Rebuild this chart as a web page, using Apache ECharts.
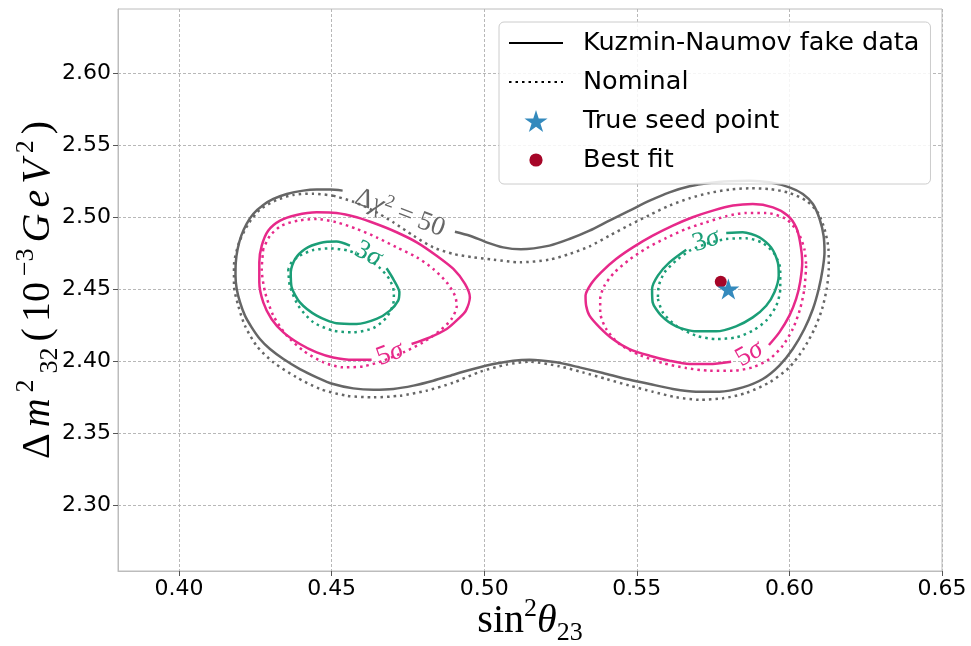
<!DOCTYPE html>
<html><head><meta charset="utf-8">
<script src="https://cdn.jsdelivr.net/npm/echarts@6/dist/echarts.min.js"></script>
<style>html,body{margin:0;padding:0;background:#fff}#c{width:971px;height:646px}</style>
</head><body><div id="c"></div><script>
// ---- axis ticks ----
const xTicks = [0.40, 0.45, 0.50, 0.55, 0.60, 0.65];
const yTicks = [2.30, 2.35, 2.40, 2.45, 2.50, 2.55, 2.60];
const xRange = [0.38, 0.65];
const yRange = [2.2542, 2.6444];

// ---- Δχ² = 50 contour, Kuzmin-Naumov fake data (open at the label) ----
const chi50Fake = [
 [0.4904,2.4898],[0.4953,2.4870],[0.5008,2.4824],[0.5062,2.4789],[0.5120,2.4776],
 [0.5214,2.4801],[0.5279,2.4847],[0.5345,2.4905],[0.5410,2.4975],[0.5476,2.5044],
 [0.5542,2.5113],[0.5607,2.5171],[0.5673,2.5213],[0.5738,2.5236],[0.5804,2.5248],
 [0.5869,2.5252],[0.5935,2.5241],[0.6000,2.5206],[0.6044,2.5160],[0.6077,2.5090],
 [0.6099,2.4986],[0.6112,2.4870],[0.6115,2.4755],[0.6109,2.4639],[0.6096,2.4500],
 [0.6077,2.4361],[0.6049,2.4222],[0.6011,2.4083],[0.5967,2.3968],[0.5913,2.3875],
 [0.5847,2.3817],[0.5771,2.3787],[0.5694,2.3787],[0.5618,2.3806],[0.5542,2.3840],
 [0.5465,2.3875],[0.5389,2.3917],[0.5312,2.3956],[0.5236,2.3991],[0.5148,2.4009],
 [0.5095,2.4002],[0.5030,2.3979],[0.4964,2.3944],[0.4899,2.3905],[0.4833,2.3863],
 [0.4768,2.3829],[0.4702,2.3806],[0.4637,2.3801],[0.4571,2.3810],[0.4505,2.3840],
 [0.4451,2.3887],[0.4396,2.3944],[0.4342,2.4014],[0.4298,2.4083],[0.4265,2.4153],
 [0.4238,2.4234],[0.4216,2.4315],[0.4200,2.4407],[0.4189,2.4500],[0.4185,2.4593],
 [0.4186,2.4685],[0.4192,2.4778],[0.4204,2.4870],[0.4221,2.4951],[0.4243,2.5021],
 [0.4276,2.5083],[0.4309,2.5125],[0.4353,2.5160],[0.4407,2.5183],[0.4451,2.5190],
 [0.4495,2.5190],[0.4536,2.5183]
];
// ---- Δχ² = 50 contour, nominal ----
const chi50Nom = [
 [0.4505,2.5148],[0.4571,2.5106],[0.4637,2.5044],[0.4702,2.4963],[0.4768,2.4870],
 [0.4833,2.4789],[0.4899,2.4743],[0.4964,2.4720],[0.5030,2.4704],[0.5117,2.4685],
 [0.5214,2.4704],[0.5279,2.4743],[0.5345,2.4796],[0.5410,2.4870],[0.5476,2.4944],
 [0.5542,2.5014],[0.5607,2.5079],[0.5673,2.5130],[0.5738,2.5167],[0.5804,2.5190],
 [0.5869,2.5199],[0.5935,2.5194],[0.6000,2.5167],[0.6055,2.5113],[0.6093,2.5032],
 [0.6115,2.4917],[0.6128,2.4778],[0.6129,2.4639],[0.6122,2.4500],[0.6107,2.4361],
 [0.6082,2.4222],[0.6046,2.4083],[0.6000,2.3956],[0.5935,2.3852],[0.5858,2.3778],
 [0.5782,2.3741],[0.5705,2.3731],[0.5629,2.3748],[0.5552,2.3787],[0.5476,2.3829],
 [0.5400,2.3875],[0.5323,2.3921],[0.5247,2.3963],[0.5148,2.3995],[0.5073,2.3975],
 [0.4986,2.3925],[0.4899,2.3850],[0.4811,2.3794],[0.4724,2.3759],[0.4637,2.3748],
 [0.4549,2.3759],[0.4462,2.3806],[0.4385,2.3887],[0.4309,2.3991],[0.4254,2.4106],
 [0.4216,2.4245],[0.4194,2.4384],[0.4180,2.4523],[0.4180,2.4662],[0.4197,2.4824],
 [0.4227,2.4951],[0.4265,2.5051],[0.4320,2.5118],[0.4374,2.5153],[0.4440,2.5162],
 [0.4505,2.5148]
];
// ---- 5σ contours ----
const sig5FakeLeft = [
 [0.4762,2.4118],[0.4822,2.4164],[0.4877,2.4222],[0.4915,2.4292],[0.4940,2.4350],
 [0.4953,2.4442],[0.4937,2.4535],[0.4899,2.4639],[0.4844,2.4731],[0.4779,2.4824],
 [0.4713,2.4894],[0.4647,2.4951],[0.4582,2.4998],[0.4516,2.5028],[0.4451,2.5032],
 [0.4385,2.5014],[0.4331,2.4975],[0.4292,2.4905],[0.4271,2.4801],[0.4263,2.4685],
 [0.4263,2.4546],[0.4276,2.4407],[0.4303,2.4292],[0.4342,2.4199],[0.4396,2.4118],
 [0.4451,2.4060],[0.4505,2.4025],[0.4571,2.4009],[0.4631,2.4009]
];
const sig5FakeRight = [
 [0.5933,2.4111],[0.5967,2.4199],[0.6000,2.4315],[0.6022,2.4431],[0.6035,2.4546],
 [0.6042,2.4685],[0.6035,2.4824],[0.6022,2.4928],[0.5995,2.5009],[0.5946,2.5067],
 [0.5880,2.5090],[0.5815,2.5079],[0.5749,2.5044],[0.5683,2.4998],[0.5618,2.4940],
 [0.5552,2.4870],[0.5487,2.4789],[0.5432,2.4708],[0.5383,2.4616],[0.5350,2.4535],
 [0.5332,2.4454],[0.5334,2.4384],[0.5345,2.4315],[0.5378,2.4234],[0.5421,2.4153],
 [0.5476,2.4083],[0.5542,2.4037],[0.5607,2.4002],[0.5673,2.3979],[0.5738,2.3979],
 [0.5809,2.3995]
];
const sig5NomLeft = [
 [0.4276,2.4778],[0.4271,2.4639],[0.4282,2.4477],[0.4309,2.4315],[0.4353,2.4176],
 [0.4407,2.4072],[0.4473,2.3991],[0.4538,2.3956],[0.4604,2.3963],[0.4669,2.4002],
 [0.4735,2.4060],[0.4800,2.4130],[0.4855,2.4211],[0.4893,2.4292],[0.4910,2.4384],
 [0.4904,2.4454],[0.4877,2.4546],[0.4833,2.4639],[0.4779,2.4720],[0.4713,2.4789],
 [0.4647,2.4859],[0.4582,2.4917],[0.4516,2.4963],[0.4451,2.4986],[0.4391,2.4975],
 [0.4336,2.4940],[0.4298,2.4870],[0.4276,2.4778]
];
const sig5NomRight = [
 [0.6055,2.4662],[0.6049,2.4500],[0.6035,2.4361],[0.6011,2.4222],[0.5978,2.4106],
 [0.5935,2.4014],[0.5880,2.3956],[0.5815,2.3933],[0.5738,2.3933],[0.5662,2.3951],
 [0.5585,2.3986],[0.5509,2.4042],[0.5443,2.4118],[0.5400,2.4222],[0.5380,2.4338],
 [0.5380,2.4431],[0.5394,2.4523],[0.5427,2.4616],[0.5476,2.4704],[0.5531,2.4782],
 [0.5596,2.4854],[0.5662,2.4917],[0.5727,2.4963],[0.5793,2.5005],[0.5858,2.5028],
 [0.5924,2.5028],[0.5989,2.4986],[0.6028,2.4894],[0.6049,2.4778],[0.6055,2.4662]
];
// ---- 3σ contours ----
const sig3FakeLeft = [
 [0.4680,2.4644],[0.4702,2.4569],[0.4722,2.4477],[0.4718,2.4419],[0.4691,2.4350],
 [0.4647,2.4292],[0.4582,2.4257],[0.4516,2.4262],[0.4451,2.4315],[0.4396,2.4407],
 [0.4369,2.4512],[0.4366,2.4616],[0.4380,2.4708],[0.4413,2.4778],[0.4462,2.4819],
 [0.4516,2.4829],[0.4560,2.4801]
];
const sig3FakeRight = [
 [0.5793,2.4889],[0.5847,2.4894],[0.5902,2.4859],[0.5940,2.4789],[0.5962,2.4685],
 [0.5965,2.4593],[0.5951,2.4477],[0.5924,2.4384],[0.5880,2.4303],[0.5825,2.4241],
 [0.5760,2.4206],[0.5694,2.4206],[0.5629,2.4241],[0.5580,2.4315],[0.5552,2.4407],
 [0.5550,2.4500],[0.5569,2.4593],[0.5607,2.4685],[0.5662,2.4773]
];
const sig3NomLeft = [
 [0.4358,2.4639],[0.4363,2.4523],[0.4391,2.4384],[0.4440,2.4269],[0.4505,2.4211],
 [0.4571,2.4199],[0.4637,2.4229],[0.4680,2.4303],[0.4702,2.4396],[0.4704,2.4477],
 [0.4689,2.4569],[0.4656,2.4650],[0.4609,2.4720],[0.4555,2.4766],[0.4495,2.4782],
 [0.4440,2.4771],[0.4396,2.4731],[0.4369,2.4685],[0.4358,2.4639]
];
const sig3NomRight = [
 [0.5569,2.4431],[0.5585,2.4338],[0.5629,2.4245],[0.5694,2.4176],[0.5760,2.4153],
 [0.5825,2.4164],[0.5880,2.4211],[0.5924,2.4280],[0.5957,2.4384],[0.5970,2.4500],
 [0.5970,2.4639],[0.5951,2.4743],[0.5913,2.4819],[0.5858,2.4852],[0.5793,2.4847],
 [0.5727,2.4813],[0.5673,2.4766],[0.5629,2.4697],[0.5591,2.4616],[0.5572,2.4523],
 [0.5569,2.4431]
];
// ---- points ----
const trueSeed = [[0.580, 2.450]];
const bestFit = [[0.5775, 2.455]];
// ---- contour label anchors ----
const labelNames = ['chi50', 'sig3', 'sig5', 'sig3', 'sig5'];
const labelAnchors = [[0.4724,2.5028],[0.4620,2.4743],[0.4691,2.4049],[0.5727,2.4836],[0.5869,2.4049]];

const GRAY = '#666666', PINK = '#e7298a', GREEN = '#1b9e77';
const SERIF = 'Liberation Serif';
const STAR = 'path://M100,0 L122.45,69.1 L195.11,69.1 L136.33,111.8 L158.78,180.9 L100,138.2 L41.22,180.9 L63.67,111.8 L4.89,69.1 L77.55,69.1 Z';
const DOT = 'path://M0,0 M100,100 M50,20 A30,30 0 1 1 50,80 A30,30 0 1 1 50,20 Z';

function contour(data, color, dotted) {
  return {
    type: 'line', data: data, symbol: 'none', showSymbol: false, smooth: 0.25,
    silent: true, animation: false, z: 3,
    lineStyle: { color: color, width: 2.5, type: dotted ? [2.5, 4] : 'solid', cap: 'butt' },
    emphasis: { disabled: true }
  };
}

const labelStyle = {
  chi50: { text: '{u|Δ}{i|χ}{s|2}{u| = 50}', color: GRAY },
  sig3: { text: '{u|3}{i|σ}', color: GREEN },
  sig5: { text: '{u|5}{i|σ}', color: PINK }
};
const labelRot = [-21, -28, 20, 18, 30];

function rich(color) {
  return {
    u: { fontFamily: SERIF, fontSize: 27, lineHeight: 31, color: color },
    i: { fontFamily: SERIF, fontSize: 27, lineHeight: 31, fontStyle: 'italic', color: color },
    s: { fontFamily: SERIF, fontSize: 18, lineHeight: 18, verticalAlign: 'top', color: color }
  };
}

const labelData = labelAnchors.map(function (p, k) {
  const st = labelStyle[labelNames[k]];
  return {
    value: p,
    label: { show: true, position: 'inside', formatter: st.text, rotate: labelRot[k], rich: rich(st.color), opacity: 1 }
  };
});

function nameRich(pad) {
  const P = [0, pad, 0, pad];
  return {
    d: { fontFamily: SERIF, fontSize: 40, lineHeight: 50, color: '#000', padding: P },
    i: { fontFamily: SERIF, fontSize: 40, lineHeight: 50, fontStyle: 'italic', color: '#000', padding: P },
    sup: { fontFamily: SERIF, fontSize: 26, lineHeight: 26, verticalAlign: 'top', color: '#000', padding: P },
    sub: { fontFamily: SERIF, fontSize: 26, lineHeight: 26, verticalAlign: 'bottom', color: '#000', padding: P }
  };
}

const option = {
  animation: false,
  backgroundColor: '#ffffff',
  grid: { left: 118, right: 29, top: 9, bottom: 75, outerBoundsMode: 'none', containLabel: false, show: true, borderColor: '#bcbcbc', borderWidth: 1, backgroundColor: '#ffffff' },
  xAxis: {
    type: 'value', min: xRange[0], max: xRange[1],
    name: '{d|sin}{sup|2}{i|θ}{sub|23}', nameLocation: 'middle', nameGap: 25, nameMoveOverlap: false,
    nameTextStyle: { fontFamily: SERIF, fontSize: 40, rich: nameRich(0) },
    axisLine: { show: true, onZero: false, lineStyle: { color: '#bcbcbc', width: 1 } },
    axisTick: { show: true, length: 5, lineStyle: { color: '#555', width: 1 }, customValues: xTicks },
    axisLabel: { customValues: xTicks, formatter: function (v) { return v.toFixed(2); }, fontFamily: 'DejaVu Sans', fontSize: 22, color: '#000', margin: 7 },
    splitLine: { show: true, lineStyle: { color: '#b8b8b8', width: 1, type: [3, 2] } }
  },
  yAxis: {
    type: 'value', min: yRange[0], max: yRange[1],
    name: '{d|Δ}{i|m}{sup|2}{sub|32}{d|(}{d|10}{sup|−3}{i|G}{i|e}{i|V}{sup|2}{d|)}', nameLocation: 'middle', nameGap: 55, nameRotate: 90, nameMoveOverlap: false,
    nameTextStyle: { fontFamily: SERIF, fontSize: 40, rich: nameRich(3) },
    axisLine: { show: true, onZero: false, lineStyle: { color: '#bcbcbc', width: 1 } },
    axisTick: { show: true, length: 5, lineStyle: { color: '#555', width: 1 }, customValues: yTicks },
    axisLabel: { customValues: yTicks, formatter: function (v) { return v.toFixed(2); }, fontFamily: 'DejaVu Sans', fontSize: 22, color: '#000', margin: 7 },
    splitLine: { show: true, lineStyle: { color: '#b8b8b8', width: 1, type: [3, 2] } }
  },
  legend: {
    left: 499, top: 22, orient: 'vertical', selectedMode: false,
    itemWidth: 54, itemHeight: 22, itemGap: 13,
    padding: [8, 11, 11, 9],
    backgroundColor: 'rgba(255,255,255,0.85)', borderColor: '#cccccc', borderWidth: 1, borderRadius: 5,
    textStyle: { fontFamily: 'DejaVu Sans', fontSize: 25.5, color: '#000', padding: [0, 0, 0, 15] },
    data: [
      { name: 'Kuzmin-Naumov fake data', itemStyle: { opacity: 0, color: 'rgba(0,0,0,0)', borderWidth: 0 } },
      { name: 'Nominal', itemStyle: { opacity: 0, color: 'rgba(0,0,0,0)', borderWidth: 0 } },
      { name: 'True seed point', icon: STAR },
      { name: 'Best fit', icon: DOT }
    ]
  },
  series: [
    { name: 'Kuzmin-Naumov fake data', type: 'line', data: [], symbol: 'none', color: '#000', lineStyle: { color: '#000', width: 2.5 } },
    { name: 'Nominal', type: 'line', data: [], symbol: 'none', color: '#000', lineStyle: { color: '#000', width: 2.5, type: [2.5, 4] } },
    contour(chi50Fake, GRAY, false),
    contour(chi50Nom, GRAY, true),
    contour(sig5FakeLeft, PINK, false),
    contour(sig5FakeRight, PINK, false),
    contour(sig5NomLeft, PINK, true),
    contour(sig5NomRight, PINK, true),
    contour(sig3FakeLeft, GREEN, false),
    contour(sig3FakeRight, GREEN, false),
    contour(sig3NomLeft, GREEN, true),
    contour(sig3NomRight, GREEN, true),
    { type: 'scatter', data: labelData, symbolSize: 0, itemStyle: { color: 'rgba(0,0,0,0)' }, silent: true, z: 4, labelLayout: { hideOverlap: false } },
    { name: 'Best fit', type: 'scatter', data: bestFit, symbol: 'circle', symbolSize: 12, itemStyle: { color: '#A60628', opacity: 1 }, z: 5 },
    { name: 'True seed point', type: 'scatter', data: trueSeed, symbol: STAR, symbolSize: 22, symbolKeepAspect: true, itemStyle: { color: '#348ABD', opacity: 1 }, z: 6 }
  ]
};
const chart = echarts.init(document.getElementById('c'), null, { renderer: 'canvas' });
chart.setOption(option);
</script></body></html>
